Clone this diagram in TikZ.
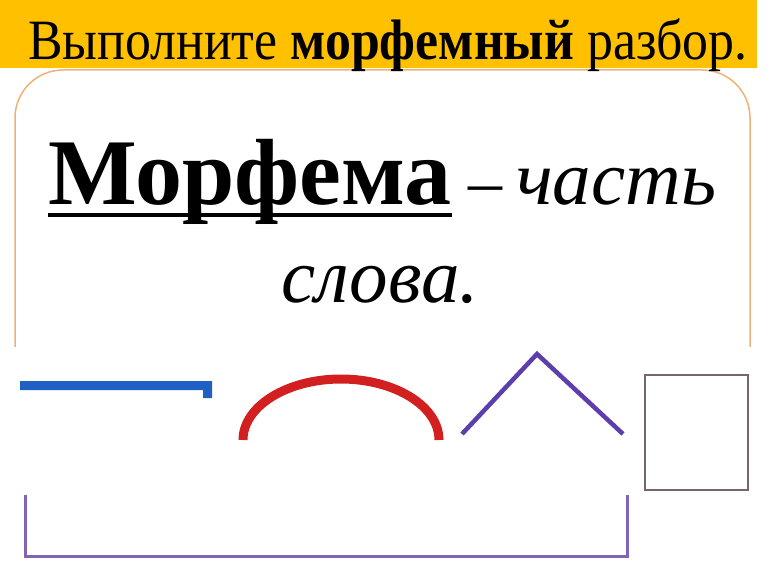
\documentclass[tikz,border=0pt]{standalone}
\usepackage{fontspec}
\setmainfont{Liberation Serif}
\definecolor{bandyellow}{RGB}{255,192,0}
\definecolor{frameorange}{RGB}{238,178,118}
\definecolor{prefixblue}{RGB}{30,96,196}
\definecolor{rootred}{RGB}{210,32,32}
\definecolor{suffixpurple}{RGB}{92,62,172}
\definecolor{basepurple}{RGB}{128,100,182}
\definecolor{endgray}{RGB}{120,100,110}
\begin{document}
\begin{tikzpicture}[x=1pt,y=-1pt,
  txt/.style={inner sep=0pt,outer sep=0pt},
  deftext/.style={txt,font=\fontsize{77}{84}\selectfont},
]
\useasboundingbox (0,0) rectangle (770,577);
% frame
\begin{scope}
\clip (0,60) rectangle (770,346);
\draw[frameorange,line width=1.5pt,rounded corners=48pt] (15,70) rectangle (750,420);
\end{scope}
% yellow band
\fill[bandyellow] (0,0) rectangle (757,68);
\node[txt,anchor=base,font=\fontsize{57}{62}\selectfont] (title) at (388,60)
  {\scalebox{0.909}[1.0]{Выполните \textbf{морфемный} разбор.}};
% definition
\node[txt,anchor=base west,font=\fontsize{94}{100}\selectfont\bfseries] (term) at (48,205) {Морфема};
\draw[line width=4pt] ([yshift=-10pt]term.base west) -- ([yshift=-10pt]term.base east);
\node[deftext,anchor=base west,font=\fontsize{68}{74}\selectfont] (dash) at (468,205) {–};
\node[deftext,anchor=base west,font=\fontsize{77}{84}\selectfont\itshape] (part) at (516,205) {часть};
\node[deftext,anchor=base,font=\fontsize{77}{84}\selectfont\itshape] (word) at (380,302) {слова.};
% prefix
\fill[prefixblue] (20,381) -- (212,381) -- (212,398) -- (203,398) -- (203,390) -- (20,390) -- cycle;
% root
\draw[rootred,line width=9pt] (243,440) arc[start angle=180,end angle=360,x radius=98,y radius=61];
% suffix
\draw[suffixpurple,line width=4.5pt,line join=miter] (462,434) -- (537,354) -- (623,434);
% ending
\draw[endgray,line width=1.3pt] (645,375) rectangle (748,490);
% base
\draw[basepurple,line width=3pt] (25,495) -- (25,556) -- (627,556) -- (627,495);
\end{tikzpicture}
\end{document}
